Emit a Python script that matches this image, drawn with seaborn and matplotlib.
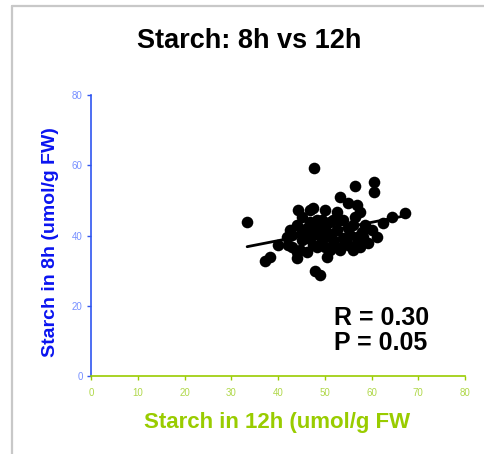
import numpy as np
import pandas as pd
import seaborn as sns
import matplotlib.pyplot as plt
from matplotlib.lines import Line2D

# starch content per sample (umol/g FW)
starch_12h = [33.4, 37.2, 38.3, 40.0, 41.9, 42.1, 43.0, 44.1, 44.1, 44.3,
              44.1, 45.1, 45.1, 46.2, 46.2, 46.8, 46.8, 47.5, 47.7, 47.5,
              47.5, 48.3, 48.3, 47.9, 49.0, 49.0, 49.4, 49.4, 50.1, 50.1,
              50.1, 51.1, 51.1, 51.1, 51.8, 51.8, 52.6, 52.6, 53.3, 53.3,
              53.3, 53.9, 53.9, 55.0, 55.0, 55.0, 55.4, 56.0, 56.0, 56.5,
              56.5, 56.9, 56.9, 57.5, 57.5, 58.0, 58.2, 58.6, 59.3, 60.1,
              60.5, 60.5, 61.2, 62.5, 64.4, 67.2, 45.1, 43.0, 48.3, 46.2,
              52.6, 54.3, 50.5, 57.0, 44.8, 42.5]
starch_8h = [43.8, 32.7, 33.9, 37.3, 39.6, 37.3, 36.7, 35.3, 33.6, 47.3,
             43.0, 41.0, 38.7, 35.3, 42.1, 47.3, 43.8, 47.8, 59.2, 40.1,
             37.3, 36.7, 44.4, 29.9, 28.8, 41.0, 44.4, 38.7, 47.3, 42.1,
             36.7, 35.9, 40.1, 43.8, 44.4, 38.7, 41.6, 36.7, 51.0, 44.4,
             35.9, 44.4, 39.3, 49.3, 42.1, 37.3, 40.1, 35.9, 43.0, 54.1,
             45.3, 48.7, 39.6, 46.7, 36.7, 41.0, 39.6, 43.0, 37.9, 41.6,
             55.2, 52.4, 39.6, 43.6, 45.3, 46.4, 45.3, 40.1, 42.1, 39.3,
             46.7, 38.0, 33.9, 38.0, 36.0, 41.5]
x_ticks = [0, 10, 20, 30, 40, 50, 60, 70, 80]
y_ticks = [0, 20, 40, 60, 80]
stats_lines = ["R = 0.30", "P = 0.05"]

sns.set_style("white")
plt.rcParams['font.family'] = ['Liberation Sans', 'DejaVu Sans']

df = pd.DataFrame({'12h': starch_12h, '8h': starch_8h})

W, H = 485, 454
fig = plt.figure(figsize=(W / 100, H / 100), dpi=100)
ax = fig.add_axes([91 / W, 1 - 376 / H, 374 / W, 281 / H])

sns.regplot(data=df, x='12h', y='8h', ci=None, color='black', ax=ax,
            scatter_kws={'s': 70, 'alpha': 1, 'linewidths': 0},
            line_kws={'lw': 2})

blue = '#2f55f0'
green = '#99cc00'
ax.set_xlim(0, 80)
ax.set_ylim(0, 80)
ax.set_xticks(x_ticks)
ax.set_yticks(y_ticks)
ax.set_xlabel('')
ax.set_ylabel('')
for side in ['top', 'right']:
    ax.spines[side].set_visible(False)
ax.spines['left'].set_color(blue)
ax.spines['bottom'].set_color(green)
ax.spines['left'].set_linewidth(1.2)
ax.spines['bottom'].set_linewidth(1.2)
ax.tick_params(axis='x', colors=green, labelcolor='#b0d84a', labelsize=7,
               length=3, width=1, direction='out', bottom=True, pad=6)
ax.tick_params(axis='y', colors=blue, labelcolor='#7790ff', labelsize=7,
               length=3, width=1, direction='out', left=True, pad=3)

ax.text(52.0, 14.5, stats_lines[0], fontsize=18, fontweight='bold',
        color='black', va='baseline', ha='left')
ax.text(52.0, 7.4, stats_lines[1], fontsize=18, fontweight='bold',
        color='black', va='baseline', ha='left')

fig.text(249.5 / W, 1 - 48 / H, 'Starch: 8h vs 12h', fontsize=19.5, fontweight='bold',
         color='black', ha='center', va='baseline')
fig.text(277 / W, 1 - 428 / H, 'Starch in 12h (umol/g FW', fontsize=16,
         fontweight='bold', color=green, ha='center', va='baseline')
fig.text(51 / W, 1 - 242 / H, 'Starch in 8h (umol/g FW)', fontsize=14,
         fontweight='bold', color='#0a14f0', ha='center', va='center', rotation=90)

# light grey frame around the panel
fig.add_artist(Line2D([12.5 / W, 12.5 / W], [0, 1 - 6 / H], color='#c8c8c8', lw=1.6))
fig.add_artist(Line2D([12.5 / W, 1], [1 - 6 / H, 1 - 6 / H], color='#c8c8c8', lw=1.6))

fig.savefig('out.png', dpi=100)
